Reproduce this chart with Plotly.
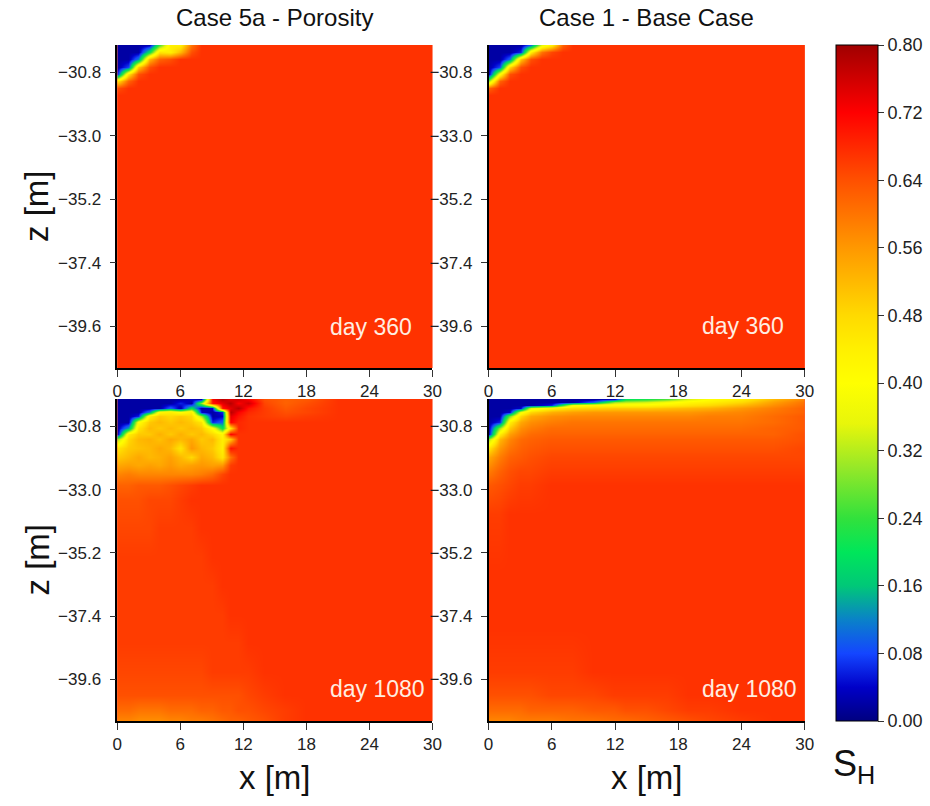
import plotly.graph_objects as go

# ---------------- data ----------------
panel_titles = ["Case 5a - Porosity", "Case 1 - Base Case"]
day_labels = ["day 360", "day 360", "day 1080", "day 1080"]
x_ticks = [0, 6, 12, 18, 24, 30]
z_ticks = [-30.8, -33.0, -35.2, -37.4, -39.6]
cbar_ticks = [0.00, 0.08, 0.16, 0.24, 0.32, 0.40, 0.48, 0.56, 0.64, 0.72, 0.80]
x_range = [0, 30]
z_range = [-41.05, -29.85]

# ---- day 360 grids (both cases) ----
x_360 = [0, 1, 2, 3, 4, 5, 6, 7, 8, 30]
z_360 = [-29.85, -30.10, -30.35, -30.60, -30.85, -31.10, -31.35, -31.60, -41.05]

sh_5a_360 = [
    [.02, .02, .02, .03, .25, .44, .44, .60, .67, .67],
    [.02, .02, .02, .20, .46, .44, .52, .64, .67, .67],
    [.02, .02, .12, .52, .62, .64, .67, .67, .67, .67],
    [.02, .08, .50, .64, .67, .67, .67, .67, .67, .67],
    [.06, .46, .64, .67, .67, .67, .67, .67, .67, .67],
    [.46, .62, .67, .67, .67, .67, .67, .67, .67, .67],
    [.64, .67, .67, .67, .67, .67, .67, .67, .67, .67],
    [.67, .67, .67, .67, .67, .67, .67, .67, .67, .67],
    [.67, .67, .67, .67, .67, .67, .67, .67, .67, .67],
]

sh_1_360 = [
    [.02, .02, .02, .02, .10, .36, .44, .62, .67, .67],
    [.02, .02, .02, .06, .44, .60, .65, .67, .67, .67],
    [.02, .02, .10, .50, .64, .67, .67, .67, .67, .67],
    [.02, .08, .48, .64, .67, .67, .67, .67, .67, .67],
    [.02, .40, .64, .67, .67, .67, .67, .67, .67, .67],
    [.30, .62, .67, .67, .67, .67, .67, .67, .67, .67],
    [.62, .67, .67, .67, .67, .67, .67, .67, .67, .67],
    [.67, .67, .67, .67, .67, .67, .67, .67, .67, .67],
    [.67, .67, .67, .67, .67, .67, .67, .67, .67, .67],
]

# ---- day 1080, case 5a ----
x_5a_1080 = [0, 1, 2, 3, 4, 5, 6, 7, 8, 9, 10, 10.8, 11.5, 12.5, 14, 16, 18, 21, 24, 27, 30]
z_5a_1080 = [-29.85, -30.00, -30.15, -30.30, -30.45, -30.65, -30.85, -31.05, -31.25,
             -31.55, -31.85, -32.15, -32.45, -32.85, -33.35, -34.35, -35.35, -36.35,
             -37.35, -38.35, -39.35, -40.15, -40.65, -41.05]
sh_5a_1080 = [
    [.02, .02, .02, .02, .02, .02, .02, .04, .02, .72, .78, .74, .76, .72, .64, .62, .63, .67, .67, .67, .67],
    [.02, .02, .02, .02, .02, .02, .06, .02, .30, .70, .74, .78, .72, .76, .65, .62, .64, .67, .67, .67, .67],
    [.02, .02, .02, .02, .02, .10, .02, .20, .02, .04, .70, .74, .78, .70, .66, .63, .65, .67, .67, .67, .67],
    [.02, .02, .02, .12, .42, .44, .40, .44, .04, .02, .06, .78, .72, .68, .66, .64, .65, .67, .67, .67, .67],
    [.02, .02, .06, .44, .50, .48, .50, .48, .30, .02, .04, .74, .70, .67, .66, .65, .66, .67, .67, .67, .67],
    [.02, .02, .40, .50, .52, .50, .52, .50, .46, .06, .10, .72, .68, .67, .67, .67, .67, .67, .67, .67, .67],
    [.02, .14, .46, .52, .50, .52, .50, .52, .50, .40, .20, .46, .68, .67, .67, .67, .67, .67, .67, .67, .67],
    [.02, .44, .50, .50, .53, .50, .53, .50, .52, .48, .42, .72, .67, .67, .67, .67, .67, .67, .67, .67, .67],
    [.30, .48, .52, .53, .51, .54, .52, .54, .50, .52, .44, .50, .67, .67, .67, .67, .67, .67, .67, .67, .67],
    [.46, .50, .51, .52, .54, .52, .46, .56, .52, .50, .44, .70, .67, .67, .67, .67, .67, .67, .67, .67, .67],
    [.50, .52, .54, .52, .53, .55, .52, .48, .54, .52, .46, .60, .67, .67, .67, .67, .67, .67, .67, .67, .67],
    [.54, .55, .54, .55, .54, .56, .54, .55, .56, .55, .56, .66, .67, .67, .67, .67, .67, .67, .67, .67, .67],
    [.58, .59, .58, .58, .58, .58, .58, .58, .59, .61, .65, .67, .67, .67, .67, .67, .67, .67, .67, .67, .67],
    [.62, .62, .63, .63, .63, .64, .65, .66, .67, .67, .67, .67, .67, .67, .67, .67, .67, .67, .67, .67, .67],
    [.64, .64, .64, .65, .65, .65, .66, .67, .67, .67, .67, .67, .67, .67, .67, .67, .67, .67, .67, .67, .67],
    [.65, .65, .65, .65, .66, .66, .66, .66, .67, .67, .67, .67, .67, .67, .67, .67, .67, .67, .67, .67, .67],
    [.66, .66, .66, .66, .66, .66, .66, .66, .66, .67, .67, .67, .67, .67, .67, .67, .67, .67, .67, .67, .67],
    [.66, .66, .66, .66, .66, .66, .66, .66, .66, .66, .67, .67, .67, .67, .67, .67, .67, .67, .67, .67, .67],
    [.66, .66, .66, .66, .66, .66, .66, .66, .66, .66, .66, .67, .67, .67, .67, .67, .67, .67, .67, .67, .67],
    [.66, .66, .66, .66, .66, .66, .66, .66, .66, .66, .66, .66, .66, .67, .67, .67, .67, .67, .67, .67, .67],
    [.65, .65, .65, .65, .65, .65, .65, .65, .65, .66, .66, .66, .66, .66, .67, .67, .67, .67, .67, .67, .67],
    [.64, .64, .64, .64, .64, .64, .64, .64, .64, .64, .64, .64, .64, .65, .66, .67, .67, .67, .67, .67, .67],
    [.61, .61, .60, .60, .60, .61, .61, .61, .62, .62, .63, .63, .64, .64, .65, .66, .67, .67, .67, .67, .67],
    [.58, .58, .57, .57, .57, .58, .58, .59, .59, .60, .61, .62, .62, .63, .64, .66, .67, .67, .67, .67, .67],
]

# ---- day 1080, case 1 ----
x_1_1080 = [0, 1, 2, 3, 4, 6, 8, 10, 12, 13, 15, 17, 19, 21, 24, 27, 30]
z_1_1080 = [-29.85, -29.95, -30.05, -30.15, -30.30, -30.45, -30.65, -30.85, -31.05,
            -31.25, -31.55, -31.85, -32.35, -32.85, -33.85, -35.85, -37.85, -39.35,
            -40.15, -40.65, -41.05]
sh_1_1080 = [
    [.02, .02, .02, .02, .02, .02, .02, .02, .04, .20, .22, .26, .34, .40, .44, .52, .58],
    [.02, .02, .02, .02, .02, .02, .02, .10, .30, .32, .34, .38, .42, .44, .48, .55, .60],
    [.02, .02, .02, .02, .02, .06, .38, .42, .42, .42, .42, .44, .46, .48, .52, .57, .61],
    [.02, .02, .02, .04, .36, .44, .48, .49, .50, .50, .50, .51, .52, .53, .56, .59, .62],
    [.02, .02, .04, .38, .48, .53, .55, .56, .56, .56, .56, .56, .56, .57, .58, .60, .62],
    [.02, .02, .28, .48, .54, .57, .58, .58, .58, .58, .58, .58, .58, .59, .59, .61, .63],
    [.02, .06, .44, .54, .57, .59, .60, .60, .60, .60, .60, .60, .60, .60, .60, .61, .63],
    [.02, .30, .50, .57, .59, .61, .61, .61, .61, .61, .61, .61, .61, .61, .61, .62, .63],
    [.03, .44, .55, .59, .61, .62, .62, .62, .62, .62, .62, .62, .62, .62, .62, .62, .64],
    [.30, .52, .58, .61, .62, .63, .63, .63, .63, .63, .63, .63, .63, .63, .63, .63, .64],
    [.46, .56, .60, .62, .63, .64, .64, .64, .64, .64, .64, .64, .64, .64, .64, .64, .65],
    [.54, .59, .62, .63, .64, .65, .65, .65, .65, .65, .65, .65, .65, .65, .65, .65, .65],
    [.59, .62, .64, .65, .65, .66, .66, .66, .66, .66, .66, .66, .66, .66, .66, .66, .66],
    [.63, .64, .65, .66, .66, .67, .67, .67, .67, .67, .67, .67, .67, .67, .67, .67, .67],
    [.66, .66, .67, .67, .67, .67, .67, .67, .67, .67, .67, .67, .67, .67, .67, .67, .67],
    [.67, .67, .67, .67, .67, .67, .67, .67, .67, .67, .67, .67, .67, .67, .67, .67, .67],
    [.67, .67, .67, .67, .67, .67, .67, .67, .67, .67, .67, .67, .67, .67, .67, .67, .67],
    [.66, .66, .66, .66, .66, .66, .66, .67, .67, .67, .67, .67, .67, .67, .67, .67, .67],
    [.64, .64, .64, .64, .64, .65, .65, .65, .66, .66, .66, .66, .67, .67, .67, .67, .67],
    [.61, .61, .61, .61, .62, .62, .62, .63, .63, .64, .64, .65, .66, .66, .67, .67, .67],
    [.58, .58, .58, .59, .59, .59, .60, .60, .61, .61, .62, .63, .64, .65, .66, .67, .67],
]

# ---------------- styling ----------------
FONT = "Liberation Sans, Arial, Helvetica, sans-serif"
W, H = 930, 806
BASE_RED = "rgb(255,50,0)"

colorscale = [
    [0.000, "rgb(0,0,128)"],
    [0.050, "rgb(0,0,200)"],
    [0.100, "rgb(20,70,255)"],
    [0.150, "rgb(10,130,200)"],
    [0.200, "rgb(0,200,120)"],
    [0.250, "rgb(0,230,90)"],
    [0.300, "rgb(50,225,60)"],
    [0.375, "rgb(150,232,40)"],
    [0.440, "rgb(232,246,10)"],
    [0.500, "rgb(255,255,0)"],
    [0.550, "rgb(255,240,0)"],
    [0.600, "rgb(255,218,0)"],
    [0.700, "rgb(255,152,0)"],
    [0.800, "rgb(255,80,0)"],
    [0.900, "rgb(255,0,0)"],
    [1.000, "rgb(160,0,0)"],
]

# panel pixel boxes (left, right, top, bottom)
boxes = [
    (114, 434, 45, 368),
    (491, 812, 45, 368),
    (114, 434, 399, 721),
    (491, 812, 399, 721),
]

panels = [
    (x_360, z_360, sh_5a_360),
    (x_360, z_360, sh_1_360),
    (x_5a_1080, z_5a_1080, sh_5a_1080),
    (x_1_1080, z_1_1080, sh_1_1080),
]

TICKFONT = dict(family=FONT, size=17, color="#222")

fig = go.Figure()
layout = {}
for i, ((xs, zs, vals), (l, r, t, b)) in enumerate(zip(panels, boxes)):
    n = "" if i == 0 else str(i + 1)
    fig.add_trace(go.Heatmap(
        x=xs, y=list(reversed(zs)), z=vals[::-1],
        coloraxis="coloraxis", zsmooth="best",
        xaxis="x" + n, yaxis="y" + n, hoverinfo="skip",
    ))
    layout["xaxis" + n] = dict(
        domain=[l / W, r / W], anchor="y" + n, range=x_range,
        tickvals=x_ticks, ticks="outside", ticklen=7, tickwidth=1,
        tickcolor="#333", showline=True, linecolor="black", linewidth=1.5,
        showgrid=False, zeroline=False, tickfont=TICKFONT,
    )
    layout["yaxis" + n] = dict(
        domain=[(H - b) / H, (H - t) / H], anchor="x" + n, range=z_range,
        tickvals=z_ticks, tickformat=".1f", ticks="outside", ticklen=6,
        tickwidth=1, tickcolor="#333", showline=True, linecolor="black",
        linewidth=1.5, showgrid=False, zeroline=False, tickfont=TICKFONT,
        ticklabelstandoff=5,
    )

fig.update_layout(**layout)

day_y = [0.127, 0.13, 0.10, 0.10]
annotations = []
for i, lab in enumerate(day_labels):
    n = "" if i == 0 else str(i + 1)
    annotations.append(dict(
        text=lab, xref="x" + n + " domain", yref="y" + n + " domain",
        x=0.668, y=day_y[i], xanchor="left", yanchor="middle", showarrow=False,
        font=dict(family=FONT, size=23, color="rgba(255,238,225,1)"),
    ))

for j, t in enumerate(panel_titles):
    l, r, _, _ = boxes[j]
    annotations.append(dict(
        text=t, xref="paper", yref="paper", x=(l + r) / 2 / W, y=(H - 18) / H,
        xanchor="center", yanchor="middle", showarrow=False,
        font=dict(family=FONT, size=24, color="#111"),
    ))

for cy in [(45 + 368) / 2, (399 + 721) / 2]:
    annotations.append(dict(
        text="z [m]", xref="paper", yref="paper", x=32 / W, y=(H - cy) / H,
        xanchor="center", yanchor="middle", textangle=-90, showarrow=False,
        font=dict(family=FONT, size=33, color="#111"),
    ))
for cx in [(114 + 434) / 2, (491 + 812) / 2]:
    annotations.append(dict(
        text="x [m]", xref="paper", yref="paper", x=cx / W, y=(H - 777) / H,
        xanchor="center", yanchor="middle", showarrow=False,
        font=dict(family=FONT, size=33, color="#111"),
    ))
annotations.append(dict(
    text="S<sub>H</sub>", xref="paper", yref="paper", x=862 / W, y=(H - 766) / H,
    xanchor="center", yanchor="middle", showarrow=False,
    font=dict(family=FONT, size=36, color="#111"),
))

fig.update_layout(
    width=W, height=H, margin=dict(l=0, r=0, t=0, b=0),
    paper_bgcolor="white", plot_bgcolor=BASE_RED,
    font=dict(family=FONT, color="#222"),
    annotations=annotations,
    coloraxis=dict(
        colorscale=colorscale, cmin=0, cmax=0.8,
        colorbar=dict(
            x=844 / W, xanchor="left", y=(H - 721) / H, yanchor="bottom",
            thickness=42, thicknessmode="pixels", len=676, lenmode="pixels",
            outlinewidth=1, outlinecolor="black",
            tickvals=cbar_ticks, tickformat=".2f", ticks="outside", ticklen=6,
            tickcolor="#333", tickfont=dict(family=FONT, size=18, color="#222"),
            xpad=0, ypad=0,
        ),
    ),
)

fig.write_html("out.html")
